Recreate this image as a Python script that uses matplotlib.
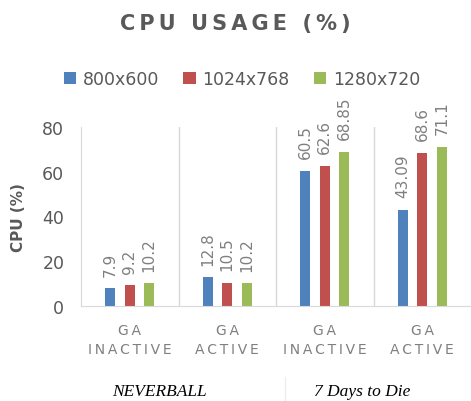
import matplotlib
matplotlib.use("Agg")
import matplotlib.pyplot as plt
import numpy as np

T = "\u2009"
categories = ["GA\nINACTIVE", "GA\nACTIVE", "GA\nINACTIVE", "GA\nACTIVE"]
series_names = ["800x600", "1024x768", "1280x720"]
values_800 = [7.9, 12.8, 60.5, 43.09]
values_1024 = [9.2, 10.5, 62.6, 68.6]
values_1280 = [10.2, 10.2, 68.85, 71.1]
labels_800 = ["7.9", "12.8", "60.5", "43.09"]
labels_1024 = ["9.2", "10.5", "62.6", "68.6"]
labels_1280 = ["10.2", "10.2", "68.85", "71.1"]
games = ["NEVERBALL", "7 Days to Die"]
yticks = [0, 20, 40, 60, 80]
title = "CPU USAGE (%)"

colors = ["#4F81BD", "#C0504D", "#9BBB59"]
gray = "#595959"
lgray = "#D9D9D9"


def spaced(s, sep=T):
    return "\n".join(sep.join(list(line)) for line in s.split("\n"))


fig = plt.figure(figsize=(4.71, 4.02), dpi=100)
ax = fig.add_axes([81/471, 1-307/402, 1-81/471, (307-128)/402])

x = np.arange(len(categories))
width = 0.1
offsets = [-0.2, 0.0, 0.2]
all_vals = [values_800, values_1024, values_1280]
all_labels = [labels_800, labels_1024, labels_1280]
for vals, labs, off, c, name in zip(all_vals, all_labels, offsets, colors, series_names):
    bars = ax.bar(x + off, vals, width, color=c, label=name)
    for b, lab in zip(bars, labs):
        ax.annotate(lab, (b.get_x() + b.get_width()/2, b.get_height()),
                    xytext=(0, 9), textcoords="offset points",
                    rotation=90, ha="center", va="bottom",
                    fontsize=11, color="#7F7F7F", annotation_clip=False)

ax.set_xlim(-0.5, len(categories) - 0.5)
ax.set_ylim(0, 80)
ax.set_yticks(yticks)
ax.set_xticks(x)
ax.set_xticklabels([spaced(c) for c in categories], fontsize=10, color="#7F7F7F", linespacing=1.5)
ax.tick_params(axis="x", length=0, pad=12)
ax.tick_params(axis="y", length=0, pad=12, labelsize=12.5, labelcolor=gray)
for xv in [0.5, 1.5, 2.5]:
    ax.axvline(xv, color=lgray, lw=1, zorder=0)
for s in ["top", "right"]:
    ax.spines[s].set_visible(False)
ax.spines["left"].set_color(lgray)
ax.spines["bottom"].set_color(lgray)
ax.set_ylabel("CPU (%)", fontsize=11, fontweight="bold", color=gray)
ax.yaxis.set_label_coords(-0.14, 0.5)

fig.text(235/471, 1-24/402, spaced(title, T), ha="center", va="center",
         fontsize=15, fontweight="bold", color=gray)

fig.legend(loc="center", bbox_to_anchor=(242/471, 1-80/402), ncol=3, frameon=False,
           fontsize=12.5, labelcolor=gray, handlelength=0.7, handleheight=0.7,
           handletextpad=0.4, columnspacing=1.4)

fig.text(159/471, 1-392/402, games[0], ha="center", va="center", fontsize=12.5,
         family="Liberation Serif", style="italic", color="black")
fig.text(362/471, 1-392/402, games[1], ha="center", va="center", fontsize=12.5,
         family="Liberation Serif", style="italic", color="black")
fig.add_artist(plt.Line2D([285/471, 285/471], [0, 1-378/402], color="#EEEEEE", lw=1))

fig.savefig("out.png", dpi=100)
